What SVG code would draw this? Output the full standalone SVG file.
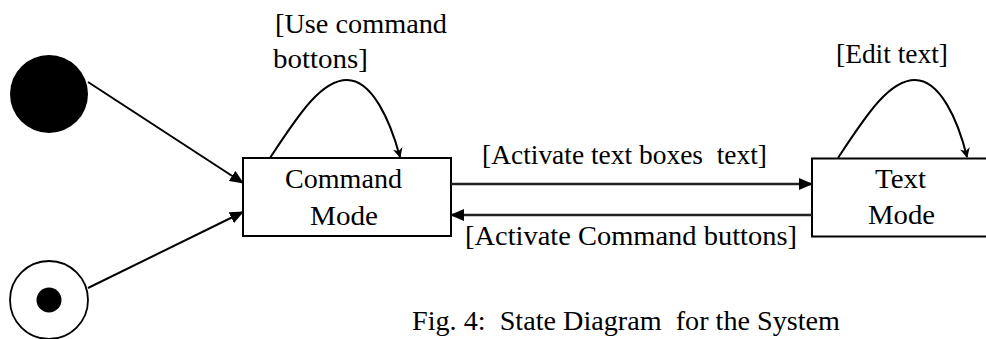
<svg xmlns="http://www.w3.org/2000/svg" width="986" height="339" viewBox="0 0 986 339">
<defs>
<marker id="ah" markerUnits="userSpaceOnUse" markerWidth="14" markerHeight="12" refX="13" refY="6" orient="auto">
<path d="M0,0 L14,6 L0,12 z" fill="#000"/>
</marker>
<marker id="ahs" markerUnits="userSpaceOnUse" markerWidth="10" markerHeight="10" refX="9" refY="5" orient="auto">
<path d="M0,0 L10,5 L0,10 L3,5 z" fill="#000"/>
</marker>
<style>
.t{font-family:"Liberation Serif","Times New Roman",serif;font-size:27px;fill:#000}
.box{fill:#fff;stroke:#000;stroke-width:2}
.ln{fill:none;stroke:#000;stroke-width:2}
.hl{fill:none;stroke:#222;stroke-width:2.6}
</style>
</defs>
<rect width="986" height="339" fill="#fff"/>
<g id="initial">
<circle cx="49" cy="94" r="39" fill="#000"/>
</g>
<g id="final">
<circle cx="49" cy="300" r="39" fill="#fff" stroke="#000" stroke-width="1.8"/>
<circle cx="49" cy="300" r="12.5" fill="#000"/>
</g>
<g id="command-mode">
<rect class="box" x="243" y="158" width="208" height="78"/>
<text class="t" x="343.5" y="188" text-anchor="middle" textLength="117" lengthAdjust="spacingAndGlyphs">Command</text>
<text class="t" x="344" y="225" text-anchor="middle" textLength="68" lengthAdjust="spacingAndGlyphs">Mode</text>
</g>
<g id="text-mode">
<rect class="box" x="812" y="158.5" width="200" height="78"/>
<text class="t" x="900.5" y="188" text-anchor="middle" textLength="51" lengthAdjust="spacingAndGlyphs">Text</text>
<text class="t" x="901.5" y="224" text-anchor="middle" textLength="67" lengthAdjust="spacingAndGlyphs">Mode</text>
</g>
<g id="connectors">
<line class="ln" x1="88" y1="82" x2="243" y2="183" marker-end="url(#ah)"/>
<line class="ln" x1="88" y1="288" x2="243" y2="212" marker-end="url(#ah)"/>
<path class="ln" d="M270,158 C300,112 322,80 347,80 C372,80 390,120 400,157" marker-end="url(#ahs)"/>
<path class="ln" d="M838,158 C868,112 890,80 915,80 C940,80 958,120 967,157" marker-end="url(#ahs)"/>
<line class="hl" x1="451" y1="184" x2="812" y2="184" marker-end="url(#ah)"/>
<line class="hl" x1="812" y1="215" x2="451" y2="215" marker-end="url(#ah)"/>
</g>
<g id="labels">
<text class="t" x="275" y="33" textLength="172" lengthAdjust="spacingAndGlyphs">[Use command</text>
<text class="t" x="273" y="68" textLength="95" lengthAdjust="spacingAndGlyphs">bottons]</text>
<text class="t" x="836" y="63" textLength="112" lengthAdjust="spacingAndGlyphs">[Edit text]</text>
<text class="t" x="482" y="164" textLength="285" lengthAdjust="spacingAndGlyphs" xml:space="preserve">[Activate text boxes  text]</text>
<text class="t" x="465" y="245" textLength="332" lengthAdjust="spacingAndGlyphs">[Activate Command buttons]</text>
<text class="t" x="412" y="330" textLength="428" lengthAdjust="spacingAndGlyphs" xml:space="preserve">Fig. 4:  State Diagram  for the System</text>
</g>
</svg>
